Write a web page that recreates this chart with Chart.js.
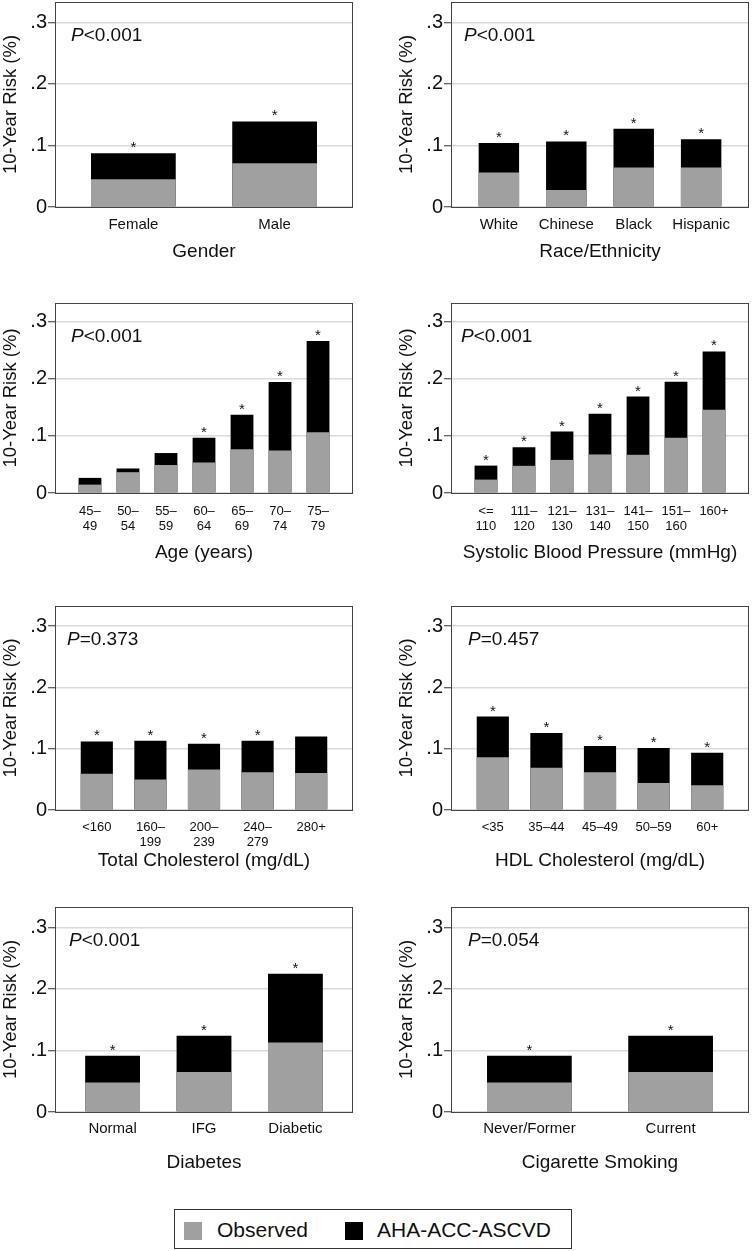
<!DOCTYPE html>
<html>
<head>
<meta charset="utf-8">
<script src="https://cdn.jsdelivr.net/npm/chart.js@4.4.1/dist/chart.umd.min.js"></script>
<style>
  html, body { margin: 0; padding: 0; background: #fff; }
  body { width: 752px; height: 1251px; position: relative; overflow: hidden;
         font-family: 'Liberation Sans', Arial, Helvetica, sans-serif; }
  .panel { position: absolute; width: 356px; }
  .legend { position: absolute; left: 174px; top: 1209px; width: 396px; height: 38px;
            border: 1px solid #333; }
  .swatch { position: absolute; top: 12px; width: 18px; height: 18px; }
  .legend-text { position: absolute; top: 0; line-height: 40px; font-size: 21px; color: #111; }
</style>
</head>
<body>

<div class="legend">
  <div class="swatch" style="left: 9px; background: #a0a0a0;"></div>
  <div class="legend-text" style="left: 42px;">Observed</div>
  <div class="swatch" style="left: 170px; background: #000;"></div>
  <div class="legend-text" style="left: 202px;">AHA-ACC-ASCVD</div>
</div>

<script>
(function () {
  'use strict';

  const FONT = "'Liberation Sans', Arial, Helvetica, sans-serif";
  const GRAY = '#a0a0a0';
  const BLACK = '#000000';
  const TEXT = '#111111';

  /*--------- DATA --------*/

  // shared y axis
  const yTickValues = [0, 0.1, 0.2, 0.3];
  const yTickLabels = ['0', '.1', '.2', '.3'];
  const yMax = 0.333;

  // Gender
  const genderLabels = ['Female', 'Male'];
  const genderObserved = [0.045, 0.071];
  const genderPredicted = [0.0875, 0.139];
  const genderStar = [1, 1];

  // Race / ethnicity
  const raceLabels = ['White', 'Chinese', 'Black', 'Hispanic'];
  const raceObserved = [0.056, 0.0275, 0.064, 0.064];
  const racePredicted = [0.104, 0.1065, 0.127, 0.110];
  const raceStar = [1, 1, 1, 1];

  // Age
  const ageLabels = [['45–', '49'], ['50–', '54'], ['55–', '59'], ['60–', '64'],
                     ['65–', '69'], ['70–', '74'], ['75–', '79']];
  const ageObserved = [0.0147, 0.0365, 0.049, 0.0535, 0.0765, 0.0747, 0.1065];
  const agePredicted = [0.0265, 0.043, 0.070, 0.097, 0.137, 0.1947, 0.2665];
  const ageStar = [0, 0, 0, 1, 1, 1, 1];

  // Systolic blood pressure
  const sbpLabels = [['<=', '110'], ['111–', '120'], ['121–', '130'], ['131–', '140'],
                     ['141–', '150'], ['151–', '160'], ['160+', '']];
  const sbpObserved = [0.0235, 0.0476, 0.058, 0.0676, 0.067, 0.097, 0.146];
  const sbpPredicted = [0.048, 0.080, 0.1076, 0.139, 0.169, 0.195, 0.248];
  const sbpStar = [1, 1, 1, 1, 1, 1, 1];

  // Total cholesterol
  const cholLabels = [['<160', ''], ['160–', '199'], ['200–', '239'], ['240–', '279'], ['280+', '']];
  const cholObserved = [0.0593, 0.0496, 0.0663, 0.0615, 0.0604];
  const cholPredicted = [0.112, 0.113, 0.108, 0.113, 0.120];
  const cholStar = [1, 1, 1, 1, 0];

  // HDL cholesterol
  const hdlLabels = ['<35', '35–44', '45–49', '50–59', '60+'];
  const hdlObserved = [0.0863, 0.069, 0.0615, 0.0442, 0.0404];
  const hdlPredicted = [0.1526, 0.1256, 0.1046, 0.1013, 0.0933];
  const hdlStar = [1, 1, 1, 1, 1];

  // Diabetes
  const diabLabels = ['Normal', 'IFG', 'Diabetic'];
  const diabObserved = [0.0478, 0.065, 0.1129];
  const diabPredicted = [0.0914, 0.1237, 0.2247];
  const diabStar = [1, 1, 1];

  // Cigarette smoking
  const smokeLabels = ['Never/Former', 'Current'];
  const smokeObserved = [0.0478, 0.065];
  const smokePredicted = [0.0914, 0.1237];
  const smokeStar = [1, 1];


  /*--------- PANELS (layout) --------*/

  const panels = [
    { title: 'Gender', p: '<0.001', labels: genderLabels, observed: genderObserved,
      predicted: genderPredicted, star: genderStar,
      left: 0, top: 0, height: 263, xHeight: 56, tickSize: 15, tickLine: 18, tickPad: 9, margin: 0.555, pX: 16 },
    { title: 'Race/Ethnicity', p: '<0.001', labels: raceLabels, observed: raceObserved,
      predicted: racePredicted, star: raceStar,
      left: 396, top: 0, height: 263, xHeight: 56, tickSize: 15, tickLine: 18, tickPad: 9, margin: 0.71, pX: 13 },
    { title: 'Age (years)', p: '<0.001', labels: ageLabels, observed: ageObserved,
      predicted: agePredicted, star: ageStar,
      left: 0, top: 301, height: 263, xHeight: 71, tickSize: 13, tickLine: 15, tickPad: 11, margin: 0.92, pX: 16 },
    { title: 'Systolic Blood Pressure (mmHg)', p: '<0.001', labels: sbpLabels, observed: sbpObserved,
      predicted: sbpPredicted, star: sbpStar,
      left: 396, top: 301, height: 263, xHeight: 71, tickSize: 13, tickLine: 15, tickPad: 11, margin: 0.92, pX: 10 },
    { title: 'Total Cholesterol (mg/dL)', p: '=0.373', labels: cholLabels, observed: cholObserved,
      predicted: cholPredicted, star: cholStar,
      left: 0, top: 604, height: 268, xHeight: 62, tickSize: 13, tickLine: 15, tickPad: 10, margin: 0.78, pX: 12 },
    { title: 'HDL Cholesterol (mg/dL)', p: '=0.457', labels: hdlLabels, observed: hdlObserved,
      predicted: hdlPredicted, star: hdlStar,
      left: 396, top: 604, height: 268, xHeight: 62, tickSize: 13, tickLine: 15, tickPad: 10, margin: 0.78, pX: 17 },
    { title: 'Diabetes', p: '<0.001', labels: diabLabels, observed: diabObserved,
      predicted: diabPredicted, star: diabStar,
      left: 0, top: 905, height: 269, xHeight: 62, tickSize: 15, tickLine: 18, tickPad: 8, margin: 0.63, pX: 14 },
    { title: 'Cigarette Smoking', p: '=0.054', labels: smokeLabels, observed: smokeObserved,
      predicted: smokePredicted, star: smokeStar,
      left: 396, top: 905, height: 269, xHeight: 62, tickSize: 15, tickLine: 18, tickPad: 8, margin: 0.555, pX: 17 }
  ];


  /*--------- CHARTS --------*/

  function makeChart(cfg) {
    const wrap = document.createElement('div');
    wrap.className = 'panel';
    wrap.style.left = cfg.left + 'px';
    wrap.style.top = cfg.top + 'px';
    wrap.style.height = cfg.height + 'px';
    const canvas = document.createElement('canvas');
    wrap.appendChild(canvas);
    document.body.appendChild(wrap);

    const n = cfg.labels.length;

    // frame round the plot area, drawn over the bars
    const framePlugin = {
      id: 'frame',
      afterDatasetsDraw: function (chart) {
        const a = chart.chartArea;
        const ctx = chart.ctx;
        ctx.save();
        ctx.strokeStyle = '#444';
        ctx.lineWidth = 1;
        ctx.strokeRect(Math.round(a.left) + 0.5, Math.round(a.top) + 0.5,
          Math.round(a.right - a.left) - 1, Math.round(a.bottom - a.top));
        ctx.restore();
      }
    };

    // significance asterisks above the predicted bars
    const starPlugin = {
      id: 'stars',
      afterDatasetsDraw: function (chart) {
        const meta = chart.getDatasetMeta(1);
        const ctx = chart.ctx;
        ctx.save();
        ctx.font = '15px ' + FONT;
        ctx.fillStyle = TEXT;
        ctx.textAlign = 'center';
        ctx.textBaseline = 'alphabetic';
        meta.data.forEach(function (bar, i) {
          if (cfg.star[i]) ctx.fillText('*', bar.x, bar.y - 1);
        });
        ctx.restore();
      }
    };

    // P-value label, italic P
    const pPlugin = {
      id: 'pvalue',
      afterDraw: function (chart) {
        const a = chart.chartArea;
        const ctx = chart.ctx;
        const x = a.left + cfg.pX;
        const y = a.top + 39;
        ctx.save();
        ctx.fillStyle = TEXT;
        ctx.textBaseline = 'alphabetic';
        ctx.textAlign = 'left';
        ctx.font = 'italic 19px ' + FONT;
        ctx.fillText('P', x, y);
        const w = ctx.measureText('P').width;
        ctx.font = '19px ' + FONT;
        ctx.fillText(cfg.p, x + w, y);
        ctx.restore();
      }
    };

    return new Chart(canvas, {
      type: 'bar',
      data: {
        datasets: [
          {
            label: 'Observed',
            data: cfg.observed.map(function (v, i) { return { x: i, y: v }; }),
            backgroundColor: GRAY,
            order: 0
          },
          {
            label: 'AHA-ACC-ASCVD',
            data: cfg.predicted.map(function (v, i) { return { x: i, y: v }; }),
            backgroundColor: BLACK,
            order: 1
          }
        ]
      },
      options: {
        responsive: true,
        maintainAspectRatio: false,
        animation: false,
        layout: { padding: { top: 2, right: 3, bottom: 0, left: 0 } },
        datasets: {
          bar: { grouped: false, barPercentage: 0.6, categoryPercentage: 1, borderWidth: 0 }
        },
        plugins: {
          legend: { display: false },
          tooltip: { enabled: false }
        },
        scales: {
          x: {
            type: 'linear',
            bounds: 'data',
            offset: false,
            min: -cfg.margin,
            max: n - 1 + cfg.margin,
            grid: { display: false, drawTicks: false, offset: false },
            border: { display: false },
            afterBuildTicks: function (s) {
              s.ticks = cfg.labels.map(function (_, i) { return { value: i }; });
            },
            afterFit: function (s) {
              s.height = cfg.xHeight;
              s.paddingLeft = 0;
              s.paddingRight = 0;
            },
            ticks: {
              autoSkip: false,
              maxRotation: 0,
              minRotation: 0,
              padding: cfg.tickPad,
              color: TEXT,
              font: { family: FONT, size: cfg.tickSize, lineHeight: cfg.tickLine / cfg.tickSize },
              callback: function (v) { return cfg.labels[v]; }
            },
            title: {
              display: true,
              text: cfg.title,
              color: TEXT,
              padding: 0,
              font: { family: FONT, size: 19 }
            }
          },
          y: {
            bounds: 'data',
            min: 0,
            max: yMax,
            grid: {
              color: '#dadada',
              lineWidth: 1.5,
              drawTicks: true,
              tickLength: 7,
              tickColor: '#333',
              tickWidth: 1
            },
            border: { display: false },
            afterBuildTicks: function (s) {
              s.ticks = yTickValues.map(function (v) { return { value: v }; });
            },
            afterFit: function (s) {
              s.width = 55;
              s.paddingTop = 0;
              s.paddingBottom = 0;
            },
            ticks: {
              padding: 1,
              color: TEXT,
              font: { family: FONT, size: 20 },
              callback: function (v, i) { return yTickLabels[i]; }
            },
            title: {
              display: true,
              text: '10-Year Risk (%)',
              color: TEXT,
              padding: 0,
              font: { family: FONT, size: 18.5 }
            }
          }
        }
      },
      plugins: [framePlugin, starPlugin, pPlugin]
    });
  }

  panels.forEach(makeChart);

})();
</script>
</body>
</html>
